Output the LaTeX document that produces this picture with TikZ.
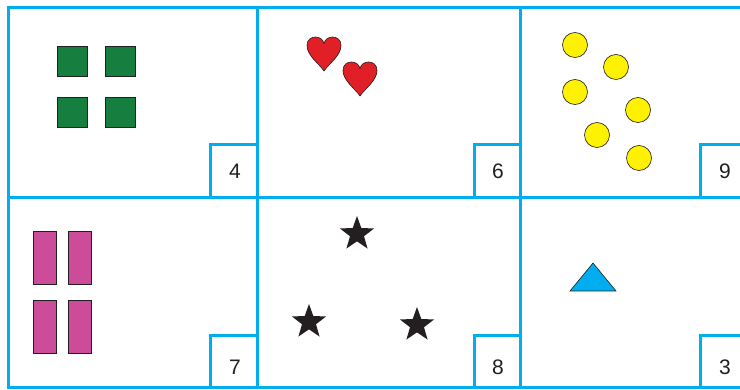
\documentclass[tikz,border=0pt]{standalone}
\usepackage{fontspec}
\setmainfont{Liberation Sans}
\usetikzlibrary{shapes.geometric}
\definecolor{gridblue}{HTML}{00AEEF}
\definecolor{inkblack}{HTML}{231F20}
\definecolor{cardgreen}{HTML}{167F40}
\definecolor{heartred}{HTML}{E11F26}
\definecolor{dotyellow}{HTML}{FFF200}
\definecolor{barpink}{HTML}{CC4C9A}
\tikzset{
  gridline/.style={draw=gridblue, line width=3pt, line cap=rect},
  numlabel/.style={font=\fontsize{21}{25}\selectfont, text=inkblack, inner sep=0pt},
  greensq/.style={draw=inkblack, line width=0.6pt, fill=cardgreen, minimum size=30pt, inner sep=0pt},
  pinkbar/.style={draw=inkblack, line width=0.6pt, fill=barpink, minimum width=23pt, minimum height=53pt, inner sep=0pt},
  yellowdot/.style={circle, draw=inkblack, line width=0.6pt, fill=dotyellow, minimum size=25pt, inner sep=0pt},
  blackstar/.style={star, star points=5, star point ratio=2.45, fill=inkblack, minimum size=36pt, inner sep=0pt},
  heartpic/.pic={
    \filldraw[fill=heartred, draw=inkblack, line width=0.6pt, xscale=17, yscale=-17]
      (0,-1) .. controls (-0.3,-0.55) and (-1,-0.1) .. (-1,0.5)
      .. controls (-1,0.85) and (-0.75,1) .. (-0.5,1)
      .. controls (-0.25,1) and (-0.05,0.85) .. (0,0.62)
      .. controls (0.05,0.85) and (0.25,1) .. (0.5,1)
      .. controls (0.75,1) and (1,0.85) .. (1,0.5)
      .. controls (1,-0.1) and (0.3,-0.55) .. (0,-1) -- cycle;
  }
}
\begin{document}
\begin{tikzpicture}[x=1pt, y=-1pt]
  \useasboundingbox (0,0) rectangle (740,390);
  \clip (0,0) rectangle (740,390);
  \fill[white] (0,0) rectangle (740,390);

  % card grid
  \draw[gridline] (8,8) -- (760,8);
  \draw[gridline] (8,198) -- (760,198);
  \draw[gridline] (8,388) -- (760,388);
  \draw[gridline] (8,8) -- (8,388);
  \draw[gridline] (257,8) -- (257,388);
  \draw[gridline] (520,8) -- (520,388);

  % number boxes
  \draw[gridline] (210,198) -- (210,145) -- (257,145);
  \draw[gridline] (474,198) -- (474,145) -- (520,145);
  \draw[gridline] (700,198) -- (700,145) -- (760,145);
  \draw[gridline] (210,388) -- (210,336) -- (257,336);
  \draw[gridline] (474,388) -- (474,336) -- (520,336);
  \draw[gridline] (700,388) -- (700,336) -- (760,336);

  \node[numlabel] (n4) at (235,171) {4};
  \node[numlabel] (n6) at (498,171) {6};
  \node[numlabel] (n9) at (725,171) {9};
  \node[numlabel] (n7) at (235,367) {7};
  \node[numlabel] (n8) at (498,367) {8};
  \node[numlabel] (n3) at (725,367) {3};

  % squares
  \node[greensq] (sq1) at (72,61) {};
  \node[greensq] (sq2) at (120,61) {};
  \node[greensq] (sq3) at (72,112) {};
  \node[greensq] (sq4) at (120,112) {};

  % hearts
  \pic at (324,54) {heartpic};
  \pic at (360,79) {heartpic};

  % dots
  \node[yellowdot] (d1) at (575,45) {};
  \node[yellowdot] (d2) at (616,67) {};
  \node[yellowdot] (d3) at (575,92) {};
  \node[yellowdot] (d4) at (638,110) {};
  \node[yellowdot] (d5) at (597,135) {};
  \node[yellowdot] (d6) at (639,158) {};

  % bars
  \node[pinkbar] (b1) at (44.5,258) {};
  \node[pinkbar] (b2) at (79.5,258) {};
  \node[pinkbar] (b3) at (44.5,327) {};
  \node[pinkbar] (b4) at (79.5,327) {};

  % stars
  \node[blackstar] (s1) at (357,234) {};
  \node[blackstar] (s2) at (309,322) {};
  \node[blackstar] (s3) at (417,325) {};

  % triangle
  \filldraw[fill=gridblue, draw=inkblack, line width=0.6pt] (593,263) -- (616,291) -- (570,291) -- cycle;
\end{tikzpicture}
\end{document}
